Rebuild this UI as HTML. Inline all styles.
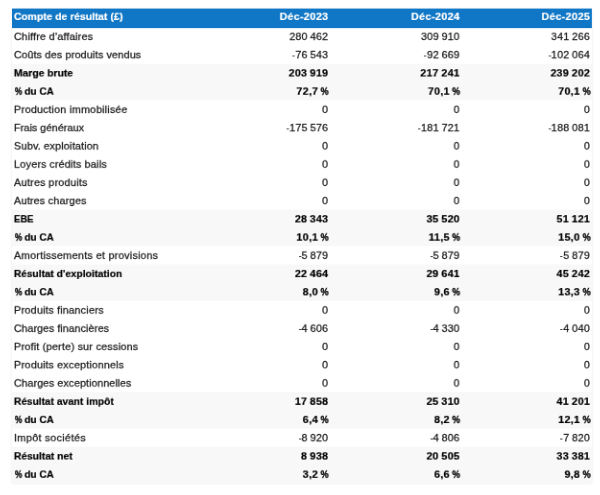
<!DOCTYPE html>
<html lang="fr"><head><meta charset="utf-8"><title>Compte de résultat</title>
<style>
html,body{margin:0;padding:0;background:#fff;}
body{width:600px;height:495px;overflow:hidden;position:relative;font-family:"Liberation Sans",sans-serif;font-size:11.042px;color:#1a1a1a;}
.t{will-change:transform;transform:scale(0.960,0.912);transform-origin:0 0;position:absolute;left:12px;top:9px;width:604.479px;height:520.395px;box-shadow:0 0 3px rgba(0,0,0,0.10);}
.r{position:absolute;left:0;width:100%;height:20.000px;line-height:20.000px;white-space:nowrap;}
.r.h{z-index:2;box-shadow:0 -0.45px 0 0 #1076c6;height:21.162px;line-height:21.162px;background:#1076c6;color:#fff;font-weight:bold;}
.r.b{background:#f8f8f8;font-weight:bold;color:#000;}
.r span{position:absolute;top:-0.768px;}
.r.h span{top:-2.467px;}
.r.b span{top:0.000px;}
.n span{-webkit-text-stroke:0.260px #1a1a1a;}
.b span{-webkit-text-stroke:0.208px #000;}
.h span{-webkit-text-stroke:0.208px #fff;}
.b i{-webkit-text-stroke:0.365px #000;}
.l{left:2.396px;}
.n .l{left:1.979px;}
.b .l{left:2.083px;}
.c{text-align:right;letter-spacing:0.152px;word-spacing:-0.448px;margin-right:-0.152px;}
.b .c,.h .c{letter-spacing:0.281px;word-spacing:-0.563px;margin-right:-0.281px;}
.c1{right:275.208px;}
.c2{right:138.229px;}
.c3{right:2.500px;}
i{font-style:normal;display:inline-block;transform:scaleX(0.84);transform-origin:100% 50%;margin-left:-1.562px;margin-right:-0.729px;}
.l i{transform:scaleX(0.81);transform-origin:0 50%;margin-left:0.729px;margin-right:-2.083px;}
u{text-decoration:none;display:inline-block;transform:scaleX(0.78);transform-origin:100% 50%;}

</style></head><body>
<div class="t">
<div class="r h" style="top:0.00px"><span class="l" style="letter-spacing:0.000px;transform:scaleX(0.975);transform-origin:0 50%">Compte de résultat (£)</span><span class="c c1">Déc-2023</span><span class="c c2">Déc-2024</span><span class="c c3">Déc-2025</span></div>
<div class="r n" style="top:20.39px"><span class="l" style="letter-spacing:0.159px">Chiffre d'affaires</span><span class="c c1">280 462</span><span class="c c2">309 910</span><span class="c c3">341 266</span></div>
<div class="r n" style="top:40.39px"><span class="l" style="letter-spacing:0.074px">Coûts des produits vendus</span><span class="c c1"><u>-</u>76 543</span><span class="c c2"><u>-</u>92 669</span><span class="c c3"><u>-</u>102 064</span></div>
<div class="r b" style="top:60.39px"><span class="l" style="letter-spacing:0.000px;transform:scaleX(0.975);transform-origin:0 50%">Marge brute</span><span class="c c1">203 919</span><span class="c c2">217 241</span><span class="c c3">239 202</span></div>
<div class="r b" style="top:80.39px"><span class="l" style="letter-spacing:0.000px;transform:scaleX(0.945);transform-origin:0 50%"><i>%</i> du CA</span><span class="c c1">72,7 <i>%</i></span><span class="c c2">70,1 <i>%</i></span><span class="c c3">70,1 <i>%</i></span></div>
<div class="r n" style="top:100.39px"><span class="l" style="letter-spacing:0.193px">Production immobilisée</span><span class="c c1">0</span><span class="c c2">0</span><span class="c c3">0</span></div>
<div class="r n" style="top:120.39px"><span class="l" style="letter-spacing:-0.032px">Frais généraux</span><span class="c c1"><u>-</u>175 576</span><span class="c c2"><u>-</u>181 721</span><span class="c c3"><u>-</u>188 081</span></div>
<div class="r n" style="top:140.39px"><span class="l" style="letter-spacing:0.116px">Subv. exploitation</span><span class="c c1">0</span><span class="c c2">0</span><span class="c c3">0</span></div>
<div class="r n" style="top:160.39px"><span class="l" style="letter-spacing:0.126px">Loyers crédits bails</span><span class="c c1">0</span><span class="c c2">0</span><span class="c c3">0</span></div>
<div class="r n" style="top:180.39px"><span class="l" style="letter-spacing:0.171px">Autres produits</span><span class="c c1">0</span><span class="c c2">0</span><span class="c c3">0</span></div>
<div class="r n" style="top:200.39px"><span class="l" style="letter-spacing:0.096px">Autres charges</span><span class="c c1">0</span><span class="c c2">0</span><span class="c c3">0</span></div>
<div class="r b" style="top:220.39px"><span class="l" style="letter-spacing:0.000px;transform:scaleX(0.903);transform-origin:0 50%">EBE</span><span class="c c1">28 343</span><span class="c c2">35 520</span><span class="c c3">51 121</span></div>
<div class="r b" style="top:240.39px"><span class="l" style="letter-spacing:0.000px;transform:scaleX(0.945);transform-origin:0 50%"><i>%</i> du CA</span><span class="c c1">10,1 <i>%</i></span><span class="c c2">11,5 <i>%</i></span><span class="c c3">15,0 <i>%</i></span></div>
<div class="r n" style="top:260.39px"><span class="l" style="letter-spacing:0.224px">Amortissements et provisions</span><span class="c c1"><u>-</u>5 879</span><span class="c c2"><u>-</u>5 879</span><span class="c c3"><u>-</u>5 879</span></div>
<div class="r b" style="top:280.39px"><span class="l" style="letter-spacing:0.000px;transform:scaleX(0.956);transform-origin:0 50%">Résultat d'exploitation</span><span class="c c1">22 464</span><span class="c c2">29 641</span><span class="c c3">45 242</span></div>
<div class="r b" style="top:300.39px"><span class="l" style="letter-spacing:0.000px;transform:scaleX(0.945);transform-origin:0 50%"><i>%</i> du CA</span><span class="c c1">8,0 <i>%</i></span><span class="c c2">9,6 <i>%</i></span><span class="c c3">13,3 <i>%</i></span></div>
<div class="r n" style="top:320.39px"><span class="l" style="letter-spacing:0.156px">Produits financiers</span><span class="c c1">0</span><span class="c c2">0</span><span class="c c3">0</span></div>
<div class="r n" style="top:340.39px"><span class="l" style="letter-spacing:0.058px">Charges financières</span><span class="c c1"><u>-</u>4 606</span><span class="c c2"><u>-</u>4 330</span><span class="c c3"><u>-</u>4 040</span></div>
<div class="r n" style="top:360.39px"><span class="l" style="letter-spacing:0.140px">Profit (perte) sur cessions</span><span class="c c1">0</span><span class="c c2">0</span><span class="c c3">0</span></div>
<div class="r n" style="top:380.39px"><span class="l" style="letter-spacing:0.169px">Produits exceptionnels</span><span class="c c1">0</span><span class="c c2">0</span><span class="c c3">0</span></div>
<div class="r n" style="top:400.39px"><span class="l" style="letter-spacing:0.071px">Charges exceptionnelles</span><span class="c c1">0</span><span class="c c2">0</span><span class="c c3">0</span></div>
<div class="r b" style="top:420.39px"><span class="l" style="letter-spacing:0.000px;transform:scaleX(0.959);transform-origin:0 50%">Résultat avant impôt</span><span class="c c1">17 858</span><span class="c c2">25 310</span><span class="c c3">41 201</span></div>
<div class="r b" style="top:440.39px"><span class="l" style="letter-spacing:0.000px;transform:scaleX(0.945);transform-origin:0 50%"><i>%</i> du CA</span><span class="c c1">6,4 <i>%</i></span><span class="c c2">8,2 <i>%</i></span><span class="c c3">12,1 <i>%</i></span></div>
<div class="r n" style="top:460.39px"><span class="l" style="letter-spacing:0.280px">Impôt sociétés</span><span class="c c1"><u>-</u>8 920</span><span class="c c2"><u>-</u>4 806</span><span class="c c3"><u>-</u>7 820</span></div>
<div class="r b" style="top:480.39px"><span class="l" style="letter-spacing:0.000px;transform:scaleX(0.968);transform-origin:0 50%">Résultat net</span><span class="c c1">8 938</span><span class="c c2">20 505</span><span class="c c3">33 381</span></div>
<div class="r b" style="top:500.39px"><span class="l" style="letter-spacing:0.000px;transform:scaleX(0.945);transform-origin:0 50%"><i>%</i> du CA</span><span class="c c1">3,2 <i>%</i></span><span class="c c2">6,6 <i>%</i></span><span class="c c3">9,8 <i>%</i></span></div>
</div></body></html>
